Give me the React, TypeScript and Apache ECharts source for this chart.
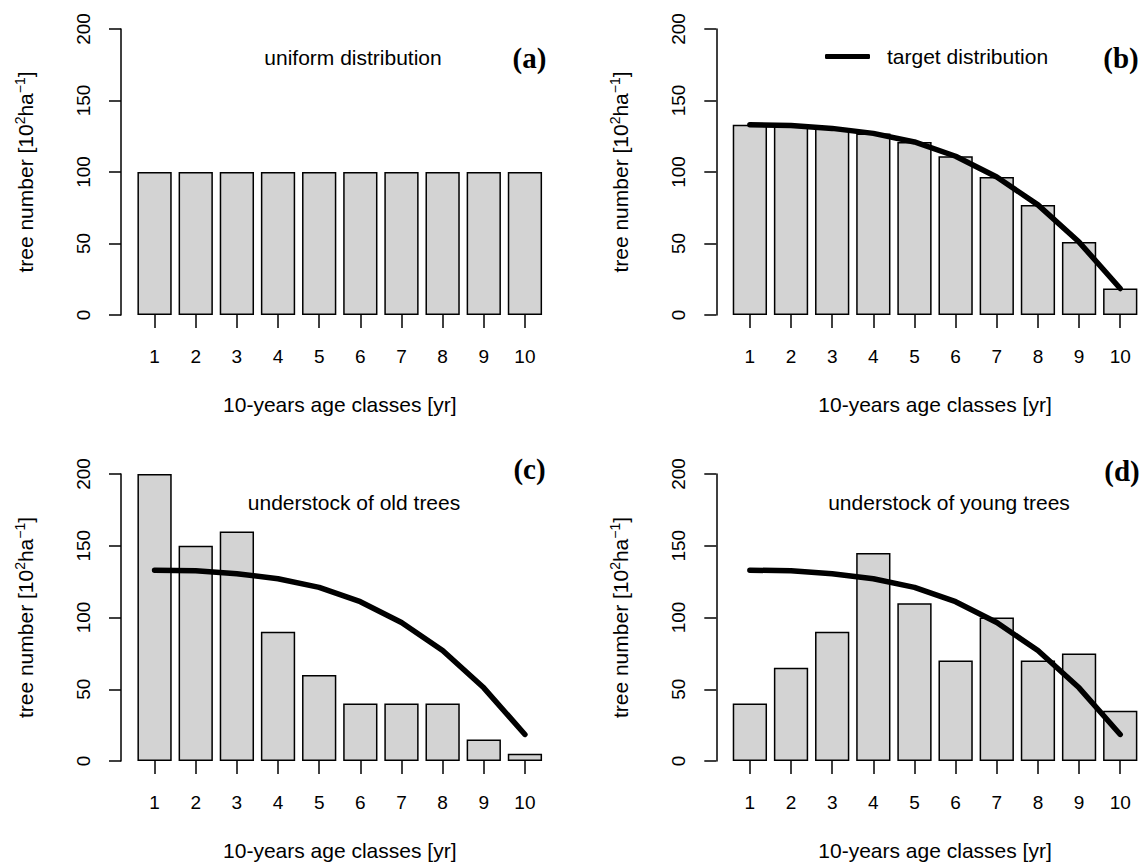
import React, { useEffect, useRef } from "react";
import * as echarts from "echarts";

// ---- data ----
const ageClasses = ["1", "2", "3", "4", "5", "6", "7", "8", "9", "10"];
const uniformTrees = [100, 100, 100, 100, 100, 100, 100, 100, 100, 100];
const targetTrees = [133, 132.5, 130.5, 127, 121, 111, 96.5, 77, 51, 18.5];
const oldUnderstockTrees = [200, 150, 160, 90, 60, 40, 40, 40, 15, 5];
const youngUnderstockTrees = [40, 65, 90, 145, 110, 70, 100, 70, 75, 35];
const yTicks = [0, 50, 100, 150, 200];

const panelLetters = ["(a)", "(b)", "(c)", "(d)"];
const panelNotes = ["uniform distribution", "", "understock of old trees", "understock of young trees"];
const xTitle = "10-years age classes [yr]";
const yTitle = "tree number [10{sup|2}ha{sup|\u22121}]";
const legendName = "target distribution";

const SANS = "'Liberation Sans', Arial, Helvetica, sans-serif";
const SERIF = "'Liberation Serif', 'Times New Roman', serif";

export default function App() {
  const ref = useRef<HTMLDivElement>(null);

  useEffect(() => {
    if (!ref.current) return;
    const chart = echarts.init(ref.current, null, { renderer: "svg" });

    const gridW = 411.5;
    const grids = [
      { left: 134, top: 29, width: gridW, height: 286 },
      { left: 729.3, top: 29, width: gridW, height: 286 },
      { left: 134, top: 474, width: gridW, height: 287 },
      { left: 729.3, top: 474, width: gridW, height: 287 },
    ];

    const xAxes = grids.map((_, i) => ({
      type: "category",
      gridIndex: i,
      data: ageClasses,
      offset: 1,
      axisLine: { show: false },
      axisTick: { show: true, alignWithLabel: true, length: 13, lineStyle: { color: "#000", width: 1.5 } },
      axisLabel: { margin: 31, fontSize: 19, color: "#000", fontFamily: SANS },
      name: xTitle,
      nameLocation: "middle",
      nameGap: 78,
      nameTextStyle: { fontSize: 21, color: "#000", fontFamily: SANS },
    }));

    const yAxes = grids.map((_, i) => ({
      type: "value",
      gridIndex: i,
      min: yTicks[0],
      max: yTicks[yTicks.length - 1],
      interval: yTicks[1] - yTicks[0],
      offset: 13,
      axisLine: { show: true, lineStyle: { color: "#000", width: 1.5 } },
      axisTick: { show: true, length: 12, lineStyle: { color: "#000", width: 1.5 } },
      splitLine: { show: false },
      axisLabel: { rotate: 90, margin: 28, fontSize: 19, color: "#000", fontFamily: SANS },
      name: yTitle,
      nameLocation: "middle",
      nameGap: 84,
      nameTextStyle: {
        fontSize: 21,
        color: "#000",
        fontFamily: SANS,
        lineHeight: 24,
        rich: {
          sup: { fontSize: 14, fontFamily: SANS, color: "#000", verticalAlign: "top", lineHeight: 14 },
        },
      },
    }));

    const barData = [uniformTrees, targetTrees, oldUnderstockTrees, youngUnderstockTrees];
    const series: any[] = barData.map((d, i) => ({
      type: "bar",
      name: "bars " + i,
      xAxisIndex: i,
      yAxisIndex: i,
      data: d,
      barWidth: "83.33%",
      itemStyle: { color: "#D3D3D3", borderColor: "#000", borderWidth: 1.5 },
      z: 2,
    }));
    [1, 2, 3].forEach((i) => {
      series.push({
        type: "line",
        name: i === 1 ? legendName : "target " + i,
        xAxisIndex: i,
        yAxisIndex: i,
        data: targetTrees,
        symbol: "none",
        smooth: false,
        lineStyle: { color: "#000", width: 5.5, cap: "round", join: "round" },
        itemStyle: { color: "#000" },
        z: 3,
      });
    });

    const letterPos = [
      [529.5, 58],
      [1121, 58],
      [529.5, 469],
      [1122, 471],
    ];
    const notePos = [
      [353, 57],
      [0, 0],
      [354, 502],
      [949, 502],
    ];
    const graphics: any[] = [];
    panelLetters.forEach((t, i) => {
      graphics.push({
        type: "text",
        x: letterPos[i][0],
        y: letterPos[i][1],
        style: {
          text: t,
          fontSize: 29,
          fontWeight: "bold",
          fontFamily: SERIF,
          fill: "#000",
          align: "center",
          verticalAlign: "middle",
        },
      });
      if (panelNotes[i]) {
        graphics.push({
          type: "text",
          x: notePos[i][0],
          y: notePos[i][1],
          style: {
            text: panelNotes[i],
            fontSize: 21,
            fontFamily: SANS,
            fill: "#000",
            align: "center",
            verticalAlign: "middle",
          },
        });
      }
    });

    chart.setOption({
      animation: false,
      backgroundColor: "#fff",
      grid: grids,
      xAxis: xAxes,
      yAxis: yAxes,
      legend: {
        data: [legendName],
        left: 825,
        top: 46,
        itemWidth: 45,
        itemHeight: 5,
        icon: "roundRect",
        padding: 0,
        textStyle: { fontSize: 21, color: "#000", fontFamily: SANS, padding: [0, 0, 0, 12] },
      },
      series,
      graphic: graphics,
    });

    return () => chart.dispose();
  }, []);

  return (
    <div
      ref={ref}
      style={{ position: "fixed", left: 0, top: 0, width: 1146, height: 864, background: "#fff" }}
    />
  );
}
